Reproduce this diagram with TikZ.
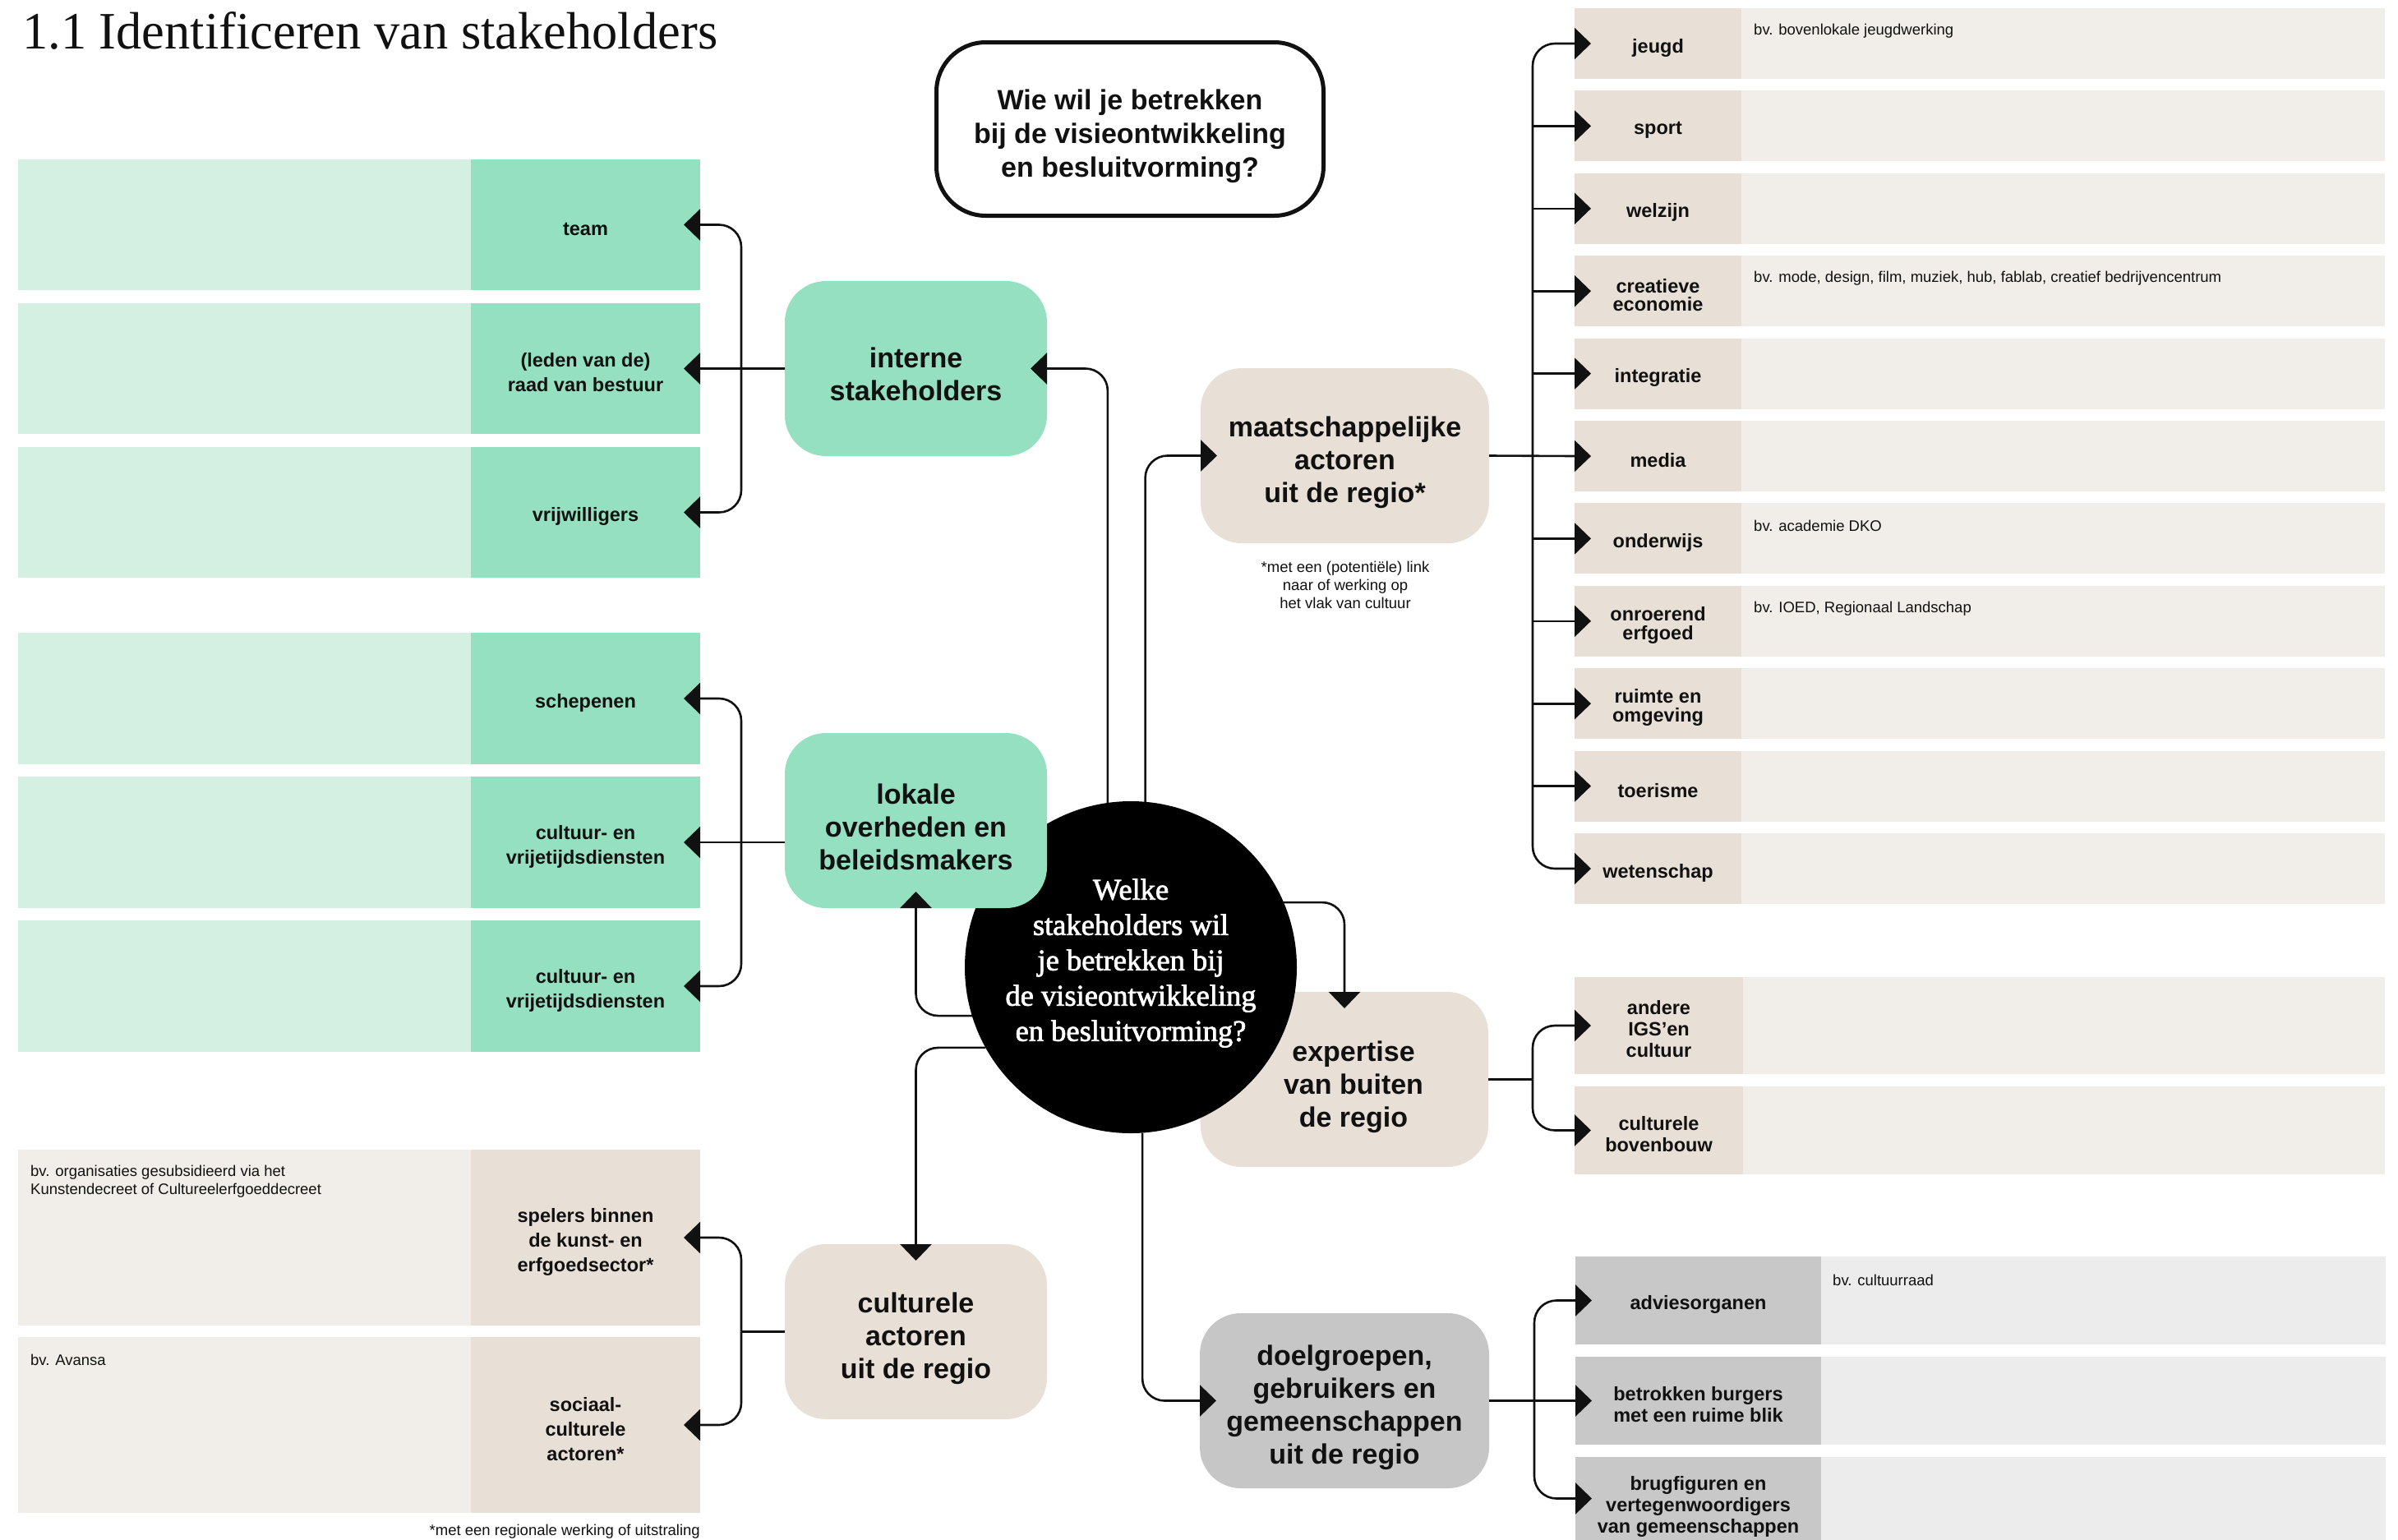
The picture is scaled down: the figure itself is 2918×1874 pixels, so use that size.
\documentclass[tikz,border=0pt]{standalone}
\usepackage{fontspec}
\usepackage{graphicx}
\setmainfont{Liberation Sans}
\newfontfamily\serifft{Liberation Serif}
\newfontfamily\serifsemi[FakeBold=2]{Liberation Serif}
\usetikzlibrary{arrows.meta}
\definecolor{mintD}{HTML}{94E0C0}
\definecolor{mintL}{HTML}{D4F0E2}
\definecolor{tanD}{HTML}{E8E0D6}
\definecolor{tanL}{HTML}{F1EEE9}
\definecolor{grayD}{HTML}{C8C8C8}
\definecolor{grayL}{HTML}{ECECEC}
\definecolor{grayM}{HTML}{C6C6C6}
\definecolor{ink}{HTML}{111111}
\begin{document}
\begin{tikzpicture}[x=1bp,y=-1bp,
  conn/.style={draw=ink, line width=2.6bp, rounded corners=27bp},
  into/.style={-{Triangle[length=20bp,width=38bp]}, shorten >=-20bp},
  cell/.style={inner sep=0, outer sep=0, anchor=north west, minimum height=#1},
  labA/.style={inner sep=0, text=ink, font=\bfseries\fontsize{23.5bp}{30bp}\selectfont, align=center},
  labD/.style={inner sep=0, text=ink, font=\bfseries\fontsize{23.5bp}{22.5bp}\selectfont, align=center},
  labE/.style={inner sep=0, text=ink, font=\bfseries\fontsize{23.5bp}{26bp}\selectfont, align=center},
  midbox/.style={rounded corners=50bp, inner sep=0, outer sep=0, minimum height=213bp},
  midtext/.style={inner sep=0, text=ink, font=\bfseries\fontsize{34bp}{40bp}\selectfont, align=center},
  hint/.style={inner sep=0, text=ink, font=\fontsize{18.5bp}{22bp}\selectfont, align=left},
  note/.style={inner sep=0, text=ink, font=\fontsize{18.5bp}{22bp}\selectfont, align=center}
]
\useasboundingbox (0,0) rectangle (2918,1874);
\fill[white] (0,0) rectangle (2918,1874);

% title
\node[anchor=base west, inner sep=0, text=ink] (title) at (27,59)
  {\resizebox{846bp}{45bp}{\serifft 1.1 Identificeren van stakeholders}};

% question
\node[draw=ink, line width=5bp, rounded corners=60bp, fill=white, minimum width=471bp,
  minimum height=211bp, inner sep=0] (q) at (1375,157) {};
\node[inner sep=0, align=center, text=ink, font=\bfseries\fontsize{34bp}{41bp}\selectfont]
  (qt) at ([yshift=-9bp]q.center) {Wie wil je betrekken\\bij de visieontwikkeling\\en besluitvorming?};

% group A (interne)
\foreach \i/\t/\lab in {0/194/team,1/369/{(leden van de)\\raad van bestuur},2/544/vrijwilligers}{
  \node[cell=159bp, minimum width=551bp, fill=mintL] (abg\i) at (22,\t) {};
  \node[cell=159bp, minimum width=279bp, fill=mintD] (a\i) at (573,\t) {};
  \node[labA] (a\i t) at ([yshift=-5bp]a\i.center) {\lab};
}
% group B (lokale)
\foreach \i/\t/\lab in {0/770/schepenen,1/945/{cultuur- en\\vrijetijdsdiensten},2/1120/{cultuur- en\\vrijetijdsdiensten}}{
  \node[cell=160bp, minimum width=551bp, fill=mintL] (bbg\i) at (22,\t) {};
  \node[cell=160bp, minimum width=279bp, fill=mintD] (b\i) at (573,\t) {};
  \node[labA] (b\i t) at ([yshift=-5bp]b\i.center) {\lab};
}
% group C (culturele)
\foreach \i/\t/\lab in {0/1399/{spelers binnen\\de kunst- en\\erfgoedsector*},1/1627/{sociaal-\\culturele\\actoren*}}{
  \node[cell=214bp, minimum width=551bp, fill=tanL] (cbg\i) at (22,\t) {};
  \node[cell=214bp, minimum width=279bp, fill=tanD] (c\i) at (573,\t) {};
  \node[labA] (c\i t) at ([yshift=-5bp]c\i.center) {\lab};
}
\node[hint, anchor=north west] (hc0) at (37,1418)
  {bv. organisaties gesubsidieerd via het\\Kunstendecreet of Cultureelerfgoeddecreet};
\node[hint, anchor=west] (hc1) at (37,1655) {bv. Avansa};
\node[note, anchor=east] (fn2) at (852,1864) {*met een regionale werking of uitstraling};

% group D (maatschappelijke)
\foreach \i/\lab in {0/jeugd,1/sport,2/welzijn,3/{creatieve\\economie},4/integratie,5/media,
  6/onderwijs,7/{onroerend\\erfgoed},8/{ruimte en\\omgeving},9/toerisme,10/wetenschap}{
  \node[cell=86bp, minimum width=783bp, fill=tanL] (dbg\i) at (2119,{10+100.4*\i}) {};
  \node[cell=86bp, minimum width=203bp, fill=tanD] (d\i) at (1916,{10+100.4*\i}) {};
  \node[labD] (d\i t) at ([yshift=-5bp]d\i.center) {\lab};
}
\node[hint, anchor=west] (hd0) at (2134,38) {bv. bovenlokale jeugdwerking};
\node[hint, anchor=west] (hd3) at (2134,339) {bv. mode, design, film, muziek, hub, fablab, creatief bedrijvencentrum};
\node[hint, anchor=west] (hd6) at (2134,640) {bv. academie DKO};
\node[hint, anchor=west] (hd7) at (2134,741) {bv. IOED, Regionaal Landschap};

% group E (expertise)
\node[cell=118bp, minimum width=781bp, fill=tanL] (ebg0) at (2121,1189) {};
\node[cell=118bp, minimum width=205bp, fill=tanD] (e0) at (1916,1189) {};
\node[labE] (e0t) at ([yshift=-4bp]e0.center) {andere\\IGS’en\\cultuur};
\node[cell=107bp, minimum width=781bp, fill=tanL] (ebg1) at (2121,1322) {};
\node[cell=107bp, minimum width=205bp, fill=tanD] (e1) at (1916,1322) {};
\node[labE] (e1t) at ([yshift=-5bp]e1.center) {culturele\\bovenbouw};

% group F (doelgroepen)
\node[cell=107bp, minimum width=687bp, fill=grayL] (fbg0) at (2216,1529) {};
\node[cell=107bp, minimum width=299bp, fill=grayD] (f0) at (1917,1529) {};
\node[labE] (f0t) at ([yshift=-5bp]f0.center) {adviesorganen};
\node[cell=107bp, minimum width=687bp, fill=grayL] (fbg1) at (2216,1651) {};
\node[cell=107bp, minimum width=299bp, fill=grayD] (f1) at (1917,1651) {};
\node[labE] (f1t) at ([yshift=-5bp]f1.center) {betrokken burgers\\met een ruime blik};
\node[cell=101bp, minimum width=687bp, fill=grayL] (fbg2) at (2216,1773) {};
\node[cell=101bp, minimum width=299bp, fill=grayD] (f2) at (1917,1773) {};
\node[labE] (f2t) at (2066.5,1833) {brugfiguren en\\vertegenwoordigers\\van gemeenschappen};
\node[hint, anchor=west] (hf0) at (2230,1558) {bv. cultuurraad};

% middle boxes
\node[midbox, fill=mintD, minimum width=319bp] (int) at (1114.5,448.5) {};
\node[midtext] (intt) at ([yshift=-7bp]int.center) {interne\\stakeholders};
\node[midbox, fill=tanD, minimum width=351bp] (maat) at (1636.5,554.5) {};
\node[midtext] (maatt) at ([yshift=-8bp]maat.center) {maatschappelijke\\actoren\\uit de regio*};
\node[note] (fn1) at (1637,712) {*met een (potentiële) link\\naar of werking op\\het vlak van cultuur};
\node[midbox, fill=tanD, minimum width=350bp] (exp) at (1636,1313.5) {};
\node[midtext] (expt) at ([xshift=11bp,yshift=-9bp]exp.center) {expertise\\van buiten\\de regio};
\node[midbox, fill=grayM, minimum width=352bp] (doel) at (1636,1704.5) {};
\node[midtext] (doelt) at ([yshift=-8bp]doel.center) {doelgroepen,\\gebruikers en\\gemeenschappen\\uit de regio};
\node[midbox, fill=tanD, minimum width=319bp] (cult) at (1114.5,1620.5) {};
\node[midtext] (cultt) at ([yshift=-8bp]cult.center) {culturele\\actoren\\uit de regio};

% central circle
\node[circle, fill=black, minimum size=404bp, inner sep=0, outer sep=0] (c) at (1376,1177) {};
\node[inner sep=0, text=white, align=center, font=\serifsemi\fontsize{36.5bp}{43bp}\selectfont]
  (ct) at ([yshift=5bp]c.center)
  {Welke\\stakeholders wil\\je betrekken bij\\de visieontwikkeling\\en besluitvorming?};

\node[midbox, fill=mintD, minimum width=319bp] (lok) at (1114.5,998.5) {};
\node[midtext] (lokt) at ([yshift=-8bp]lok.center) {lokale\\overheden en\\beleidsmakers};

% connectors from the centre
\draw[conn,into] (c.98.8) |- (int.east);
\draw[conn,into] (c.85.7) |- (maat.west);
\draw[conn,into] (c.23.6) -| (exp.north);
\draw[conn,into] (c.197.9) -| (lok.south);
\draw[conn,into] (c.209.9) -| (cult.north);
\draw[conn,into] (c.274.3) |- (doel.west);

% left brackets
\coordinate (ba) at (902,448.5);
\draw[conn,into] (int.west) -- (a1.east);
\draw[conn,into] (ba) |- (a0.east);
\draw[conn,into] (ba) |- (a2.east);

\coordinate (bb) at (902,1025);
\draw[conn,into] (lok.west |- b1.east) -- (b1.east);
\draw[conn,into] (bb) |- (b0.east);
\draw[conn,into] (bb) |- (b2.east);

\coordinate (bc) at (902,1620.5);
\draw[conn] (cult.west) -- (bc);
\draw[conn,into] (bc) |- (c0.east);
\draw[conn,into] (bc) |- (c1.east);

% right brackets
\coordinate (bd) at (1865,555);
\draw[conn,into] (maat.east) -- (d5.west);
\draw[conn,into] (bd) |- (d0.west);
\draw[conn,into] (bd) |- (d10.west);
\foreach \i in {1,2,3,4,6,7,8,9} \draw[conn,into] (bd |- d\i.west) -- (d\i.west);

\coordinate (be) at (1865,1313.5);
\draw[conn] (exp.east) -- (be);
\draw[conn,into] (be) |- (e0.west);
\draw[conn,into] (be) |- (e1.west);

\coordinate (bf) at (1867,1704.5);
\draw[conn,into] (doel.east) -- (f1.west);
\draw[conn,into] (bf) |- (f0.west);
\draw[conn,into] (bf) |- (f2.west);
\end{tikzpicture}
\end{document}
